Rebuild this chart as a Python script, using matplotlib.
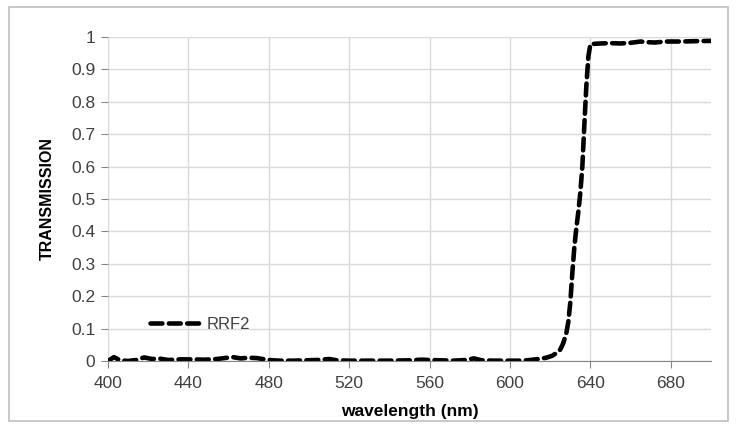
import matplotlib
matplotlib.use("Agg")
import matplotlib.pyplot as plt
from matplotlib.patches import Rectangle

plt.rcParams['font.family'] = ['Liberation Sans', 'DejaVu Sans']

# data
wavelength = [400, 403, 406, 410, 414, 418, 422, 425, 430, 436, 442, 448, 454, 458, 462,
              466, 470, 474, 478, 482, 486, 492, 498, 504, 510, 514, 520, 530, 540, 550,
              556, 560, 566, 572, 578, 582, 586, 592, 600, 606, 610, 614, 618, 621, 623,
              625, 626.5, 628, 629, 630, 631, 632, 633, 634, 635, 636, 637, 638, 639,
              640, 645, 650, 655, 660, 665, 668, 672, 678, 685, 692, 700]
transmission = [0.0, 0.012, 0.002, 0.0, 0.003, 0.011, 0.006, 0.008, 0.003, 0.005, 0.005, 0.004,
                0.006, 0.009, 0.012, 0.008, 0.01, 0.009, 0.005, 0.002, 0.001, 0.001, 0.002,
                0.003, 0.006, 0.002, 0.001, 0.001, 0.001, 0.002, 0.004, 0.003, 0.002, 0.001,
                0.003, 0.008, 0.002, 0.001, 0.001, 0.001, 0.003, 0.006, 0.01, 0.016, 0.024,
                0.035, 0.055, 0.085, 0.12, 0.18, 0.27, 0.35, 0.41, 0.46, 0.52, 0.6, 0.73,
                0.85, 0.94, 0.978, 0.98, 0.981, 0.98, 0.982, 0.986, 0.984, 0.983, 0.986,
                0.986, 0.987, 0.988]
x_ticks = [400, 440, 480, 520, 560, 600, 640, 680]
y_ticks = [0, 0.1, 0.2, 0.3, 0.4, 0.5, 0.6, 0.7, 0.8, 0.9, 1]
y_tick_labels = ['0', '0.1', '0.2', '0.3', '0.4', '0.5', '0.6', '0.7', '0.8', '0.9', '1']

fig = plt.figure(figsize=(7.39, 4.30), dpi=100)
ax = fig.add_axes([0.1461, 0.1605, 0.816, 0.7535])

# outer chart border
fig.patches.append(Rectangle((9 / 739, 9 / 430), 719 / 739, 414 / 430, transform=fig.transFigure,
                             fill=False, edgecolor='#bfbfbf', linewidth=1.2))

ax.plot(wavelength, transmission, color='black', linewidth=3.3, linestyle=(0, (2.6, 1.4)),
        dash_capstyle='round', label='RRF2')

ax.set_xlim(400, 700)
ax.set_ylim(0, 1)
ax.set_xticks(x_ticks)
ax.set_yticks(y_ticks)
ax.set_yticklabels(y_tick_labels)
ax.grid(True, color='#d9d9d9', linewidth=1)
ax.set_axisbelow(True)

for s in ['top', 'right', 'left']:
    ax.spines[s].set_visible(False)
ax.spines['bottom'].set_color('#868686')
ax.tick_params(axis='x', colors='#868686', length=5, labelsize=12.5, labelcolor='#404040', pad=6)
ax.tick_params(axis='y', colors='#868686', length=5, labelsize=12.5, labelcolor='#404040', pad=4)

ax.set_xlabel('wavelength (nm)', fontsize=12.5, fontweight='bold', color='black', labelpad=9)
ax.set_ylabel('TRANSMISSION', fontsize=11.5, fontweight='bold', color='black', labelpad=12)

ax.legend(loc='center left', bbox_to_anchor=(0.07, 0.114), frameon=False, fontsize=12,
          handlelength=2.9, handletextpad=0.5, borderpad=0, borderaxespad=0,
          labelcolor='#404040')

fig.savefig('out.png', dpi=100)
